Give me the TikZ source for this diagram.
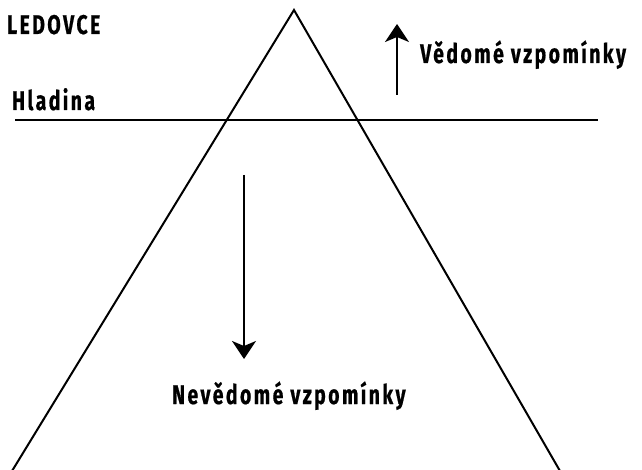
\documentclass[tikz,border=0pt]{standalone}
\usepackage{fontspec}
\setmainfont{Fira Sans}
\newfontfamily\labfont[FakeStretch=0.72, LetterSpace=9, FakeBold=0.6]{Fira Sans}
\usetikzlibrary{arrows.meta}
\begin{document}
\begin{tikzpicture}[x=1pt,y=-1pt,
  lbl/.style={font=\labfont\fontsize{27}{30}\selectfont\bfseries, inner sep=0pt, anchor=base west},
  edge/.style={line width=2pt, black},
  memarrow/.style={line width=2.2pt, -{Stealth[length=18pt,width=24pt,inset=5pt]}}]
\useasboundingbox (0,0) rectangle (642,470);
\coordinate (apex) at (294,10);
\coordinate (bl) at (12,471);
\coordinate (br) at (560,471);
\draw[edge, line join=miter] (bl) -- (apex) -- (br);
\coordinate (hl) at (15,120);
\coordinate (hr) at (598,120);
\draw[edge] (hl) -- (hr);
\node[lbl] (ledovce) at (7,34) {LEDOVCE};
\node[lbl] (hladina) at (12,110) {Hladina};
\node[lbl] (vedome) at (420,63) {Vědomé vzpomínky};
\node[lbl] (nevedome) at (172,404) {Nevědomé vzpomínky};
\coordinate (upS) at (397,95);
\coordinate (upE) at (397,24);
\draw[memarrow] (upS) -- (upE);
\coordinate (dnS) at (244,175);
\coordinate (dnE) at (244,359);
\draw[memarrow] (dnS) -- (dnE);
\end{tikzpicture}
\end{document}
